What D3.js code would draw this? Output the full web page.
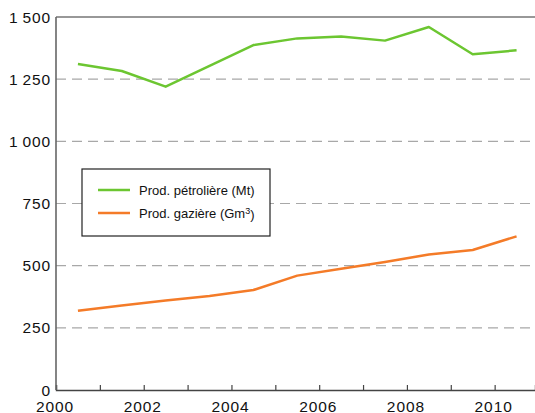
<!DOCTYPE html>
<html>
<head>
<meta charset="utf-8">
<script src="https://cdn.jsdelivr.net/npm/d3@7"></script>
<style>
	body { margin: 0; background: #fff; }
	svg { display: block; font-family: "Liberation Sans", Arial, sans-serif; }
</style>
</head>
<body>
<svg id="chart"></svg>
<script>
const years = [2000.5, 2001.5, 2002.5, 2003.5, 2004.5, 2005.5, 2006.5, 2007.5, 2008.5, 2009.5, 2010.5];
const oil = [1311, 1283, 1220, 1303, 1387, 1414, 1422, 1405, 1460, 1350, 1366];
const gas = [319, 340, 360, 378, 402, 460, 488, 515, 545, 563, 618];
const yTicks = [0, 250, 500, 750, 1000, 1250, 1500];
const xLabels = [2000, 2002, 2004, 2006, 2008, 2010];
const legendLabels = ['Prod. pétrolière (Mt)', 'Prod. gazière (Gm'];

const WIDTH = 535;
const HEIGHT = 413;
const margin = { top: 17, right: 0, bottom: 23, left: 56 };
const GREEN = '#6cc631';
const ORANGE = '#f47b28';

const svg = d3.select('#chart').attr('width', WIDTH).attr('height', HEIGHT);

const x = d3.scaleLinear().domain([2000, 2010.92]).range([margin.left, WIDTH - margin.right]);
const y = d3.scaleLinear().domain([0, 1500]).range([HEIGHT - margin.bottom, margin.top]);

// grid lines
svg.append('g')
	.selectAll('line')
	.data(yTicks.filter(d => d > 0 && d < 1500))
	.join('line')
	.attr('x1', margin.left)
	.attr('x2', WIDTH - margin.right)
	.attr('y1', d => y(d))
	.attr('y2', d => y(d))
	.attr('stroke', '#a8a8a8')
	.attr('stroke-width', 1.2)
	.attr('stroke-dasharray', '10 6');

// frame top
svg.append('line')
	.attr('x1', margin.left).attr('x2', WIDTH - margin.right)
	.attr('y1', y(1500)).attr('y2', y(1500))
	.attr('stroke', '#333').attr('stroke-width', 1.2);

// y labels
svg.append('g')
	.selectAll('text')
	.data(yTicks)
	.join('text')
	.attr('x', margin.left - 5)
	.attr('y', d => y(d))
	.attr('dy', '0.36em')
	.attr('text-anchor', 'end')
	.attr('font-size', 15.5)
	.attr('letter-spacing', 0.9)
	.attr('fill', '#111')
	.text(d => d >= 1000 ? String(d).replace(/^(\d)/, '$1\u2009') : d);

// x axis
const xAxis = d3.axisBottom(x)
	.tickValues(d3.range(2000, 2011))
	.tickSize(-5)
	.tickFormat('');
const gx = svg.append('g')
	.attr('transform', `translate(0,${y(0)})`)
	.call(xAxis);
gx.select('.domain').attr('stroke', '#444').attr('stroke-width', 1.4);
gx.selectAll('.tick line').attr('stroke', '#444').attr('stroke-width', 1.2);

svg.append('g')
	.selectAll('text')
	.data(xLabels)
	.join('text')
	.attr('x', d => x(d) - 1)
	.attr('y', y(0) + 21.5)
	.attr('text-anchor', 'middle')
	.attr('font-size', 15.5)
	.attr('letter-spacing', 0.9)
	.attr('fill', '#111')
	.text(d => d);

// y axis line
svg.append('line')
	.attr('x1', margin.left).attr('x2', margin.left)
	.attr('y1', y(1500)).attr('y2', y(0))
	.attr('stroke', '#666').attr('stroke-width', 1.6);

// series
const line = d3.line().x((d, i) => x(years[i])).y(d => y(d));
[[oil, GREEN], [gas, ORANGE]].forEach(([s, c]) => {
	svg.append('path')
		.datum(s)
		.attr('d', line)
		.attr('fill', 'none')
		.attr('stroke', c)
		.attr('stroke-width', 2.5)
		.attr('stroke-linejoin', 'round');
});

// legend
const lg = svg.append('g').attr('transform', 'translate(82,169)');
lg.append('rect')
	.attr('width', 188).attr('height', 67)
	.attr('fill', '#fff')
	.attr('stroke', '#222').attr('stroke-width', 1.2);
[GREEN, ORANGE].forEach((c, i) => {
	const row = lg.append('g').attr('transform', `translate(0,${21 + i * 23})`);
	row.append('line')
		.attr('x1', 16).attr('x2', 48)
		.attr('stroke', c).attr('stroke-width', 2.5);
	const t = row.append('text')
		.attr('x', 57).attr('dy', '0.35em')
		.attr('font-size', 13)
		.attr('fill', '#111')
		.text(legendLabels[i]);
	if (i === 1) {
		t.append('tspan').attr('dy', '-0.45em').attr('font-size', 9).text('3');
		t.append('tspan').attr('dy', '0.45em').text(')');
	}
});
</script>
</body>
</html>
